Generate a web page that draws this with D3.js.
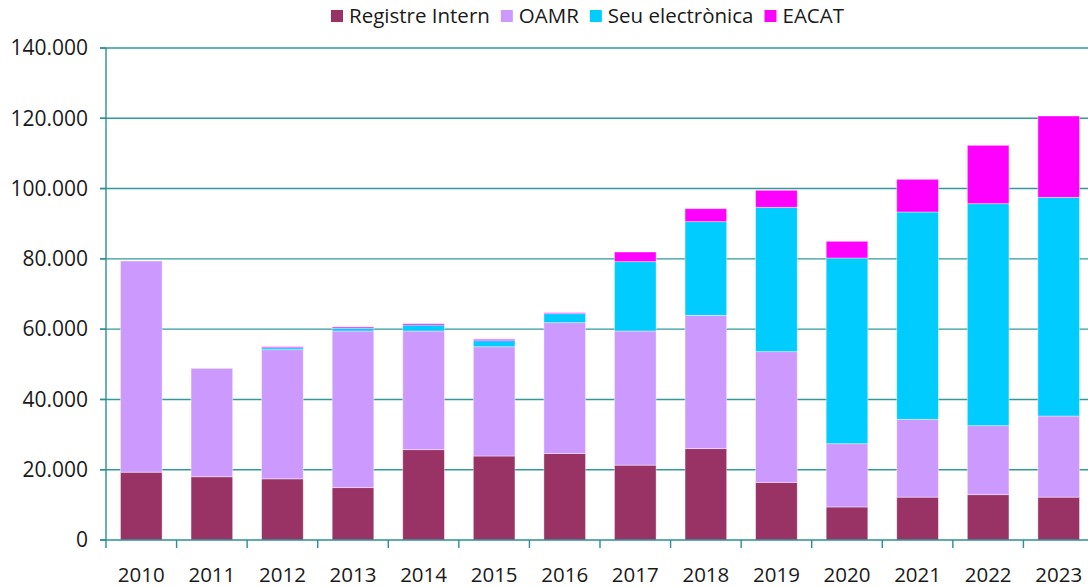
<!DOCTYPE html>
<html>
<head>
<meta charset="utf-8">
<script src="https://cdn.jsdelivr.net/npm/d3@7"></script>
<style>
  body { margin: 0; background: #fff; overflow: hidden; }
  text { font-family: "Open Sans", sans-serif; fill: #1a1a1a; }
</style>
</head>
<body>
<div id="chart"></div>
<script>
// categories and series values
var years = ["2010","2011","2012","2013","2014","2015","2016","2017","2018","2019","2020","2021","2022","2023"];
var registreIntern = [19300, 18000, 17400, 14900, 25700, 23900, 24600, 21300, 26000, 16400, 9400, 12200, 12900, 12200];
var oamr           = [60100, 30850, 36750, 44570, 33770, 31100, 37240, 38170, 37930, 37190, 18000, 22140, 19630, 23080];
var seuElectronica = [0, 0, 550, 800, 1700, 1710, 2560, 19730, 26650, 41080, 52840, 58990, 63170, 62230];
var eacat          = [0, 0, 300, 350, 370, 400, 280, 2750, 3690, 4840, 4760, 9310, 16610, 23140];
var seriesNames = ["Registre Intern", "OAMR", "Seu electrònica", "EACAT"];
var seriesColors = ["#993366", "#cc99ff", "#00ccff", "#ff00ff"];
var yTicks = [0, 20000, 40000, 60000, 80000, 100000, 120000, 140000];

var W = 1088, H = 587;
var margin = {top: 48, left: 106, bottom: 47};
var plotH = H - margin.top - margin.bottom;
var plotW = 988;

var svg = d3.select("#chart").append("svg")
    .attr("width", W)
    .attr("height", H);

// build table for stack
var table = years.map(function(y, i) {
  return {year: y, "Registre Intern": registreIntern[i], "OAMR": oamr[i],
          "Seu electrònica": seuElectronica[i], "EACAT": eacat[i]};
});
var stacked = d3.stack().keys(seriesNames)(table);

var x = d3.scaleBand()
    .domain(years)
    .range([margin.left, margin.left + plotW])
    .paddingInner(0.41)
    .paddingOuter(0.205);

var y = d3.scaleLinear()
    .domain([0, 140000])
    .range([margin.top + plotH, margin.top]);

var fmt = function(v) { return d3.format(",")(v).replace(/,/g, "."); };

// gridlines
svg.append("g").selectAll("line")
  .data(yTicks.filter(function(d) { return d > 0; }))
  .enter().append("line")
    .attr("x1", margin.left - 6)
    .attr("x2", W)
    .attr("y1", function(d) { return y(d); })
    .attr("y2", function(d) { return y(d); })
    .attr("stroke", "#339999")
    .attr("stroke-width", 1.4);

// y tick labels
svg.append("g").selectAll("text")
  .data(yTicks)
  .enter().append("text")
    .attr("x", margin.left - 18)
    .attr("y", function(d) { return y(d); })
    .attr("dy", "0.35em")
    .attr("text-anchor", "end")
    .style("font-size", "21px")
    .text(fmt);

// bars
svg.append("g").selectAll("g")
  .data(stacked)
  .enter().append("g")
    .attr("fill", function(d, i) { return seriesColors[i]; })
  .selectAll("rect")
  .data(function(d) { return d; })
  .enter().append("rect")
    .attr("x", function(d) { return x(d.data.year); })
    .attr("width", x.bandwidth())
    .attr("y", function(d) { return y(d[1]); })
    .attr("height", function(d) { return Math.max(0, y(d[0]) - y(d[1])); })
    .attr("stroke", "rgba(255,255,255,0.5)")
    .attr("stroke-width", 0.8);

// axes lines
var axisColor = "#2a9090";
svg.append("line")
    .attr("x1", margin.left).attr("x2", margin.left)
    .attr("y1", y(140000)).attr("y2", y(0) + 8)
    .attr("stroke", axisColor).attr("stroke-width", 1.4);
svg.append("line")
    .attr("x1", margin.left - 6).attr("x2", W)
    .attr("y1", y(0)).attr("y2", y(0))
    .attr("stroke", axisColor).attr("stroke-width", 1.6);
svg.append("g").selectAll("line")
  .data(yTicks)
  .enter().append("line")
    .attr("x1", margin.left - 6).attr("x2", margin.left)
    .attr("y1", function(d) { return y(d); })
    .attr("y2", function(d) { return y(d); })
    .attr("stroke", axisColor).attr("stroke-width", 1.4);

// x ticks at band boundaries
svg.append("g").selectAll("line")
  .data(years)
  .enter().append("line")
    .attr("x1", function(d) { return x(d) + x.bandwidth() + x.step() * 0.205; })
    .attr("x2", function(d) { return x(d) + x.bandwidth() + x.step() * 0.205; })
    .attr("y1", y(0)).attr("y2", y(0) + 8)
    .attr("stroke", axisColor).attr("stroke-width", 1.4);

// x labels
svg.append("g").selectAll("text")
  .data(years)
  .enter().append("text")
    .attr("x", function(d) { return x(d) + x.bandwidth() / 2; })
    .attr("y", y(0) + 42)
    .attr("text-anchor", "middle")
    .style("font-size", "20.5px")
    .text(function(d) { return d; });

// legend
var legend = svg.append("g");
var lx = 331;
seriesNames.forEach(function(name, i) {
  legend.append("rect")
      .attr("x", lx).attr("y", 10)
      .attr("width", 12).attr("height", 12)
      .attr("fill", seriesColors[i]);
  var t = legend.append("text")
      .attr("x", lx + 18).attr("y", 16)
      .attr("dy", "0.35em")
      .style("font-size", "20.5px")
      .text(name);
  lx += 18 + t.node().getComputedTextLength() + 11;
});
</script>
</body>
</html>
